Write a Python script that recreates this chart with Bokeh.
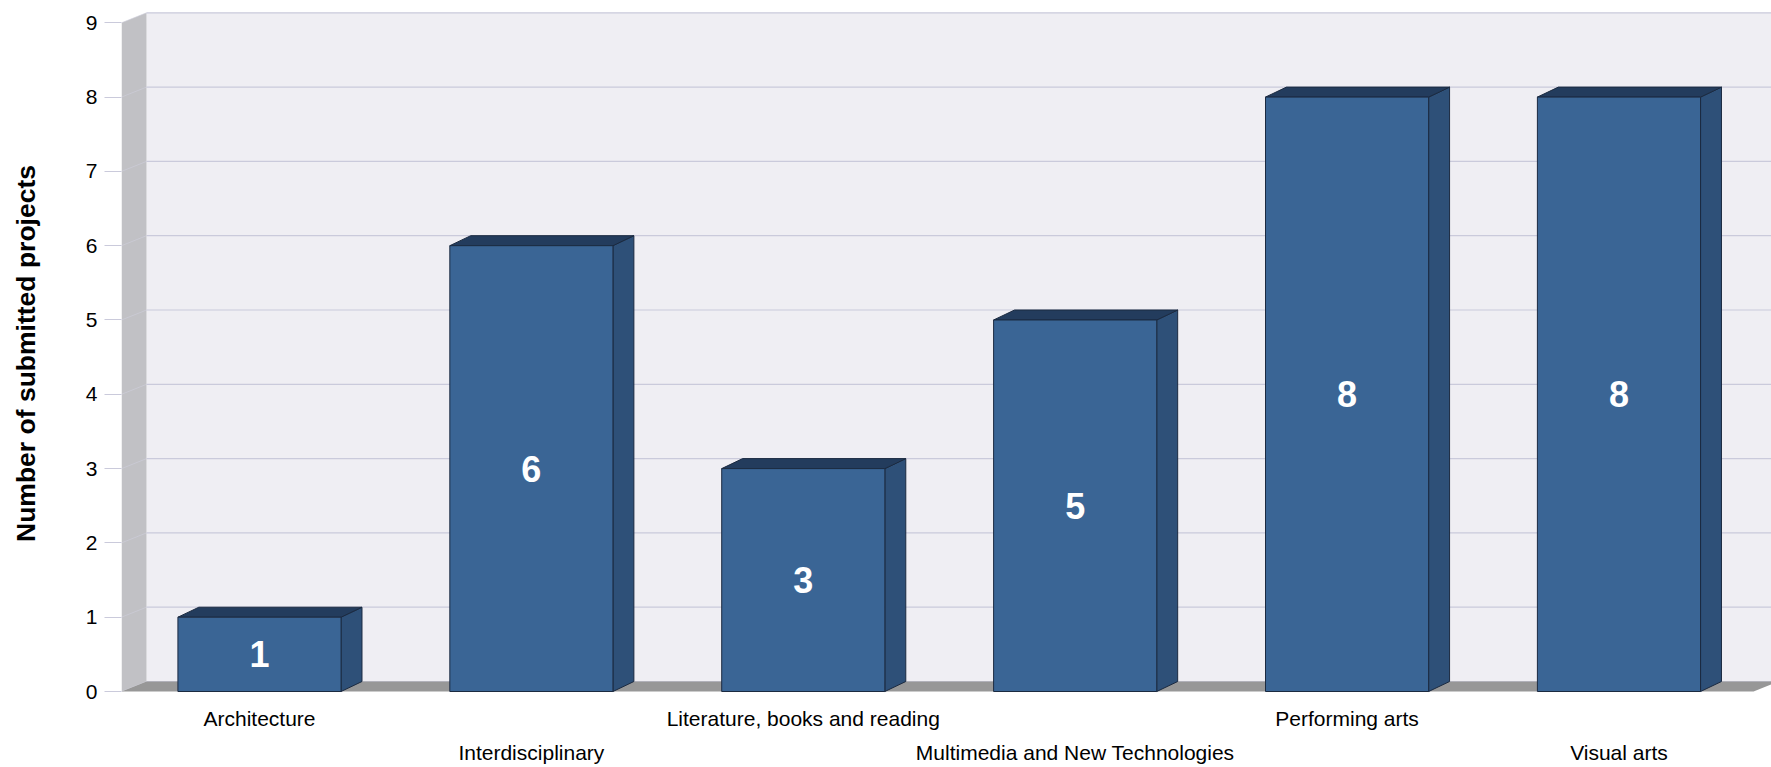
from bokeh.plotting import figure
from bokeh.models import Range1d, FixedTicker, LinearAxis
from bokeh.core.properties import value
from bokeh.embed import file_html
from bokeh.resources import INLINE

# ---- data ----
categories = ["Architecture", "Interdisciplinary", "Literature, books and reading",
              "Multimedia and New Technologies", "Performing arts", "Visual arts"]
counts = [1, 6, 3, 5, 8, 8]
y_ticks = [0, 1, 2, 3, 4, 5, 6, 7, 8, 9]
y_title = "Number of submitted projects"

# ---- styling / geometry ----
FONT = "Liberation Sans"
X0, X1 = -0.5075, 5.561          # x range (frame)
Y0, Y1 = -0.2018, 9.30           # y range (frame)
WALL_DX, DEPTH_DY = 0.092, 0.1345
BAR_DX = 0.077
HALF_W = 0.30
FLOOR_END = 5.495
YMAX = 9

C_FRONT = "#3A6595"
C_SIDE = "#2E5078"
C_TOP = "#233C5D"
C_EDGE = "#1B2A40"
C_BACK = "#EFEEF3"
C_LWALL = "#C1C1C5"
C_FLOOR = "#979797"
C_GRID = "#CACADB"

p = figure(width=1771, height=767, output_backend="svg", toolbar_location=None,
           x_range=Range1d(X0, X1), y_range=Range1d(Y0, Y1),
           min_border_left=121, min_border_right=0, min_border_top=0, min_border_bottom=61,
           x_axis_location=None, y_axis_location=None)
p.outline_line_color = None
p.xgrid.visible = False
p.ygrid.visible = False
p.background_fill_color = "white"
p.border_fill_color = "white"

# walls & floor
p.quad(left=[X0 + WALL_DX], right=[X1 + 1], bottom=[DEPTH_DY], top=[YMAX + DEPTH_DY],
       fill_color=C_BACK, line_color=None)
p.patch([X0, X0 + WALL_DX, X0 + WALL_DX, X0], [0, DEPTH_DY, YMAX + DEPTH_DY, YMAX],
        fill_color=C_LWALL, line_color=None)
# gridlines on back wall and left wall
p.segment(x0=[X0 + WALL_DX] * len(y_ticks), y0=[t + DEPTH_DY for t in y_ticks],
          x1=[X1 + 1] * len(y_ticks), y1=[t + DEPTH_DY for t in y_ticks],
          line_color=C_GRID, line_width=1.2)
p.segment(x0=[X0] * len(y_ticks), y0=y_ticks,
          x1=[X0 + WALL_DX] * len(y_ticks), y1=[t + DEPTH_DY for t in y_ticks],
          line_color="#CFCFDC", line_width=1, line_alpha=0.6)
p.patch([X0, X0 + WALL_DX, FLOOR_END + WALL_DX, FLOOR_END], [0, DEPTH_DY, DEPTH_DY, 0],
        fill_color=C_FLOOR, line_color=None)

# bars
xs = list(range(len(categories)))
lefts = [x - HALF_W for x in xs]
rights = [x + HALF_W for x in xs]
side_xs = [[r, r + BAR_DX, r + BAR_DX, r] for r in rights]
side_ys = [[0, DEPTH_DY, v + DEPTH_DY, v] for v in counts]
top_xs = [[l, l + BAR_DX, r + BAR_DX, r] for l, r in zip(lefts, rights)]
top_ys = [[v, v + DEPTH_DY, v + DEPTH_DY, v] for v in counts]
p.patches(side_xs, side_ys, fill_color=C_SIDE, line_color=C_EDGE, line_width=1)
p.patches(top_xs, top_ys, fill_color=C_TOP, line_color=C_EDGE, line_width=1)
p.quad(left=lefts, right=rights, bottom=[0] * len(xs), top=counts,
       fill_color=C_FRONT, line_color=C_EDGE, line_width=1)

# value labels
p.text(x=xs, y=[v / 2 for v in counts], text=[str(v) for v in counts],
       text_font=value(FONT), text_font_style="bold", text_font_size="36px",
       text_color="white", text_align="center", text_baseline="middle")

# y axis
yax = LinearAxis(ticker=FixedTicker(ticks=y_ticks))
yax.axis_line_color = None
yax.major_tick_out = 17
yax.major_tick_in = 0
yax.major_tick_line_color = C_GRID
yax.minor_tick_line_color = None
yax.major_label_standoff = 7
yax.major_label_text_font = FONT
yax.major_label_text_font_size = "21px"
yax.major_label_text_color = "black"
yax.axis_label = y_title
yax.axis_label_text_font = FONT
yax.axis_label_text_font_style = "bold"
yax.axis_label_text_font_size = "26.5px"
yax.axis_label_text_color = "black"
yax.axis_label_standoff = 42
p.add_layout(yax, "left")

# category axes (alternating rows)
def cat_axis(idx, standoff):
    ax = LinearAxis(ticker=FixedTicker(ticks=idx),
                    major_label_overrides={i: categories[i] for i in idx})
    ax.axis_line_color = None
    ax.major_tick_line_color = None
    ax.minor_tick_line_color = None
    ax.major_tick_out = 0
    ax.major_tick_in = 0
    ax.major_label_standoff = standoff
    ax.major_label_text_font = FONT
    ax.major_label_text_font_size = "21px"
    ax.major_label_text_color = "black"
    return ax

p.add_layout(cat_axis([0, 2, 4], 0), "below")
p.add_layout(cat_axis([1, 3, 5], 8), "below")

open("out.html", "w").write(file_html(p, INLINE))
